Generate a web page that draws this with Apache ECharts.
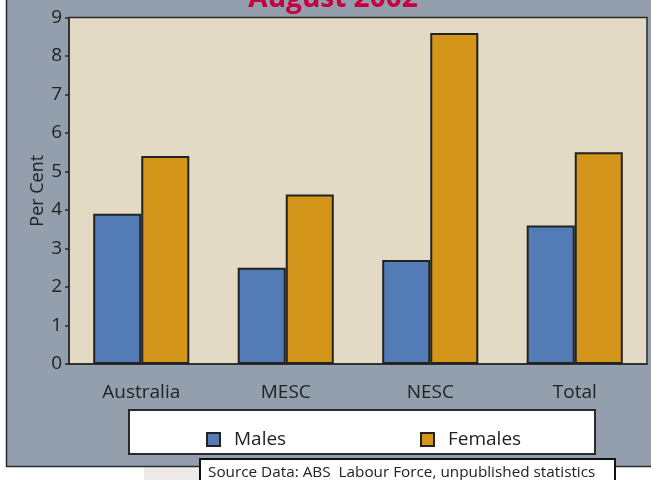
<!DOCTYPE html>
<html><head><meta charset="utf-8">
<script src="https://cdn.jsdelivr.net/npm/echarts@6/dist/echarts.min.js"></script>
<style>html,body{margin:0;padding:0;background:#fff}#c{width:651px;height:480px}</style>
</head><body><div id="c"></div>
<script>
var categories = ['Australia', 'MESC', 'NESC', 'Total'];
var males = [3.9, 2.5, 2.7, 3.6];
var females = [5.4, 4.4, 8.6, 5.5];
var yTicks = [0, 1, 2, 3, 4, 5, 6, 7, 8, 9];
var titleText = 'August 2002';
var sourceText = 'Source Data: ABS  Labour Force, unpublished statistics';

var FONT = '"Open Sans", "Noto Sans", sans-serif';
var chart = echarts.init(document.getElementById('c'), null, {renderer: 'canvas'});
chart.setOption({
  backgroundColor: '#ffffff',
  animation: false,
  graphic: [
    {type: 'rect', z: -10, shape: {x: 144, y: 466, width: 60, height: 20}, style: {fill: '#eeeae8'}},
    {type: 'rect', z: -5, shape: {x: 6.5, y: -5, width: 660, height: 471.5}, style: {fill: '#939fad', stroke: '#2a2a2a', lineWidth: 1.5}},
    {type: 'text', z: 10, x: 333, y: 13, style: {text: titleText, fill: '#c5003e', font: 'bold 28px ' + FONT, textAlign: 'center', textVerticalAlign: 'bottom'}},
    {type: 'rect', z: 5, shape: {x: 129, y: 410, width: 466, height: 44}, style: {fill: '#ffffff', stroke: '#2a2a2a', lineWidth: 2}},
    {type: 'rect', z: 5, shape: {x: 200, y: 459, width: 415, height: 30}, style: {fill: '#ffffff', stroke: '#111', lineWidth: 2}},
    {type: 'text', z: 6, x: 208, y: 473, style: {text: sourceText, fill: '#222', font: '15.3px ' + FONT, textVerticalAlign: 'middle'}}
  ],
  legend: [
    {data: ['Males'], left: 201, top: 425, itemWidth: 13, itemHeight: 13, itemGap: 0, z: 8,
     icon: 'rect', textStyle: {fontSize: 19, color: '#222', fontFamily: FONT, padding: [0, 0, 0, 9]}},
    {data: ['Females'], left: 415, top: 425, itemWidth: 13, itemHeight: 13, itemGap: 0, z: 8,
     icon: 'rect', textStyle: {fontSize: 19, color: '#222', fontFamily: FONT, padding: [0, 0, 0, 9]}}
  ],
  grid: {left: 69, right: 4, top: 17.5, bottom: 116, show: true, backgroundColor: '#e2dac4', borderColor: '#2a2a2a', borderWidth: 1.5},
  xAxis: {
    type: 'category', data: categories,
    axisLine: {lineStyle: {color: '#2a2a2a', width: 1.5}},
    axisTick: {show: false},
    axisLabel: {fontSize: 19, color: '#222', fontFamily: FONT, margin: 19}
  },
  yAxis: {
    type: 'value', min: 0, max: 9, interval: 1,
    name: 'Per Cent', nameLocation: 'middle', nameGap: 22, nameRotate: 90, nameMoveOverlap: false,
    nameTextStyle: {fontSize: 18, color: '#222', fontFamily: FONT},
    axisLine: {show: true, lineStyle: {color: '#2a2a2a', width: 1.5}},
    axisTick: {show: true, length: 4, lineStyle: {color: '#2a2a2a', width: 1.5}},
    splitLine: {show: false},
    axisLabel: {fontSize: 19, color: '#222', fontFamily: FONT, margin: 7,
      formatter: function (v) { return yTicks.indexOf(v) >= 0 ? String(v) : ''; }}
  },
  series: [
    {name: 'Males', type: 'bar', data: males, barGap: '0%', barCategoryGap: '33.5%',
     itemStyle: {color: '#537bb5', borderColor: '#222', borderWidth: 2}},
    {name: 'Females', type: 'bar', data: females, barGap: '0%', barCategoryGap: '33.5%',
     itemStyle: {color: '#d3961a', borderColor: '#222', borderWidth: 2}}
  ]
});
</script></body></html>
